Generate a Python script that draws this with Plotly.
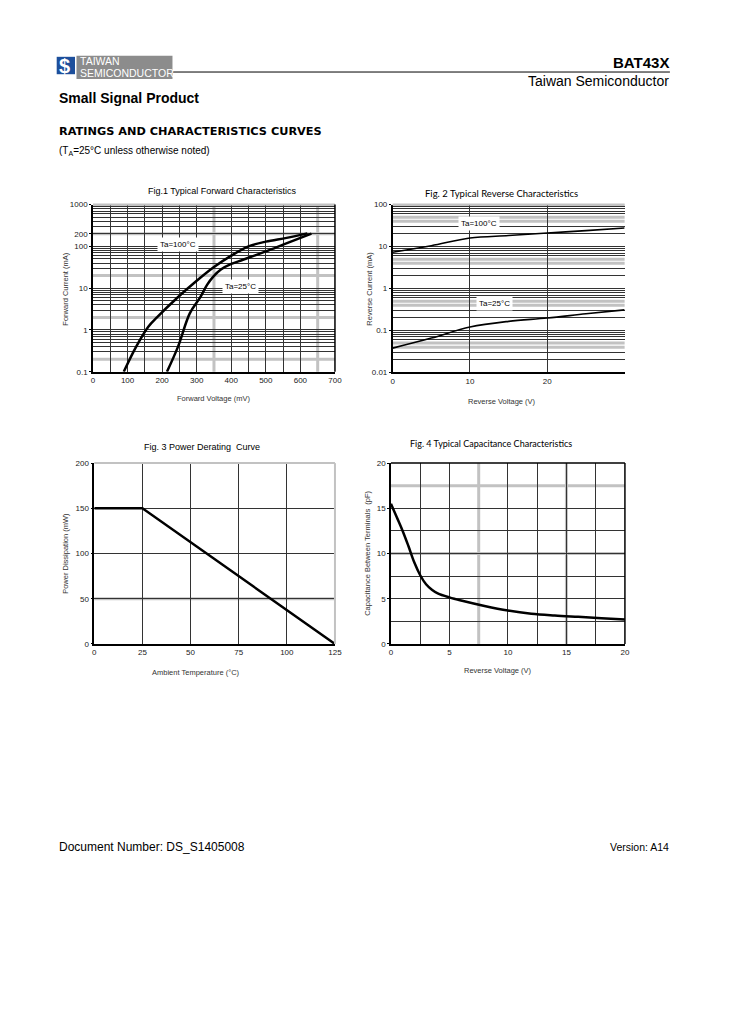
import plotly.graph_objects as go

# Fig.1 forward characteristics (mV, mA)
vf_100 = [89, 125, 160, 185, 240, 300, 350, 400, 450, 500, 560, 620]
if_100 = [0.1, 0.4, 1.2, 2.0, 5.5, 15, 32, 60, 100, 130, 160, 205]
vf_25 = [214, 246, 280, 310, 330, 348, 370, 400, 434, 500, 550, 632]
if_25 = [0.1, 0.4, 2.5, 6, 12, 19, 28, 38, 48, 76, 110, 203]

# Fig.2 reverse characteristics (V, mA)
vr_100 = [0, 5, 10, 15, 20, 25, 30]
ir_100 = [7.3, 10.5, 16, 18.3, 21, 24, 27.7]
vr_25 = [0, 5, 10, 15, 20, 25, 30]
ir_25 = [0.038, 0.066, 0.121, 0.165, 0.198, 0.25, 0.31]

# Fig.3 power derating (degC, mW)
temp = [0, 25, 125]
power = [150, 150, 0]

# Fig.4 capacitance (V, pF)
vr_cap = [0, 0.5, 1.0, 1.5, 2.0, 2.5, 3.0, 3.5, 4.0, 5, 6, 8, 10, 12, 14, 16, 18, 20]
cap = [15.5, 14.0, 12.5, 10.8, 9.0, 7.6, 6.6, 6.0, 5.6, 5.15, 4.8, 4.2, 3.7, 3.35, 3.15, 3.0, 2.85, 2.7]

# tick labels
fig1_xticks = [0, 100, 200, 300, 400, 500, 600, 700]
fig1_yticks = [0.1, 1, 10, 100, 200, 1000]
fig2_xticks = [0, 10, 20]
fig2_yticks = [0.01, 0.1, 1, 10, 100]
fig3_xticks = [0, 25, 50, 75, 100, 125]
fig3_yticks = [0, 50, 100, 150, 200]
fig4_ticks = [0, 5, 10, 15, 20]

# gridlines drawn grey and heavier in the original
fig1_grey_x = [350, 650]
fig1_grey_y = [0.2, 2, 20, 200, 1000]
fig2_grey_y = [0.04, 0.05, 0.4, 0.5, 4, 5, 40, 50, 100]
fig3_grey_y = [50]
fig4_grey_x = [7.5, 15]
fig4_grey_y = [10, 17.5]

# page is drawn inside the 8px body margin of the html page; the capture
# comes out slightly shrunk, so page positions are corrected for that
OFF = 8
W, H = 713, 1016
SX, AX = 0.9875, 2.1
SY, AY = 0.9904, 4.6
FONT = 'Liberation Sans'
GREY = '#c2c2c2'


def px(x):
    return ((x - AX) / SX - OFF) / W


def py(y):
    return 1 - ((y - AY) / SY - OFF) / H


def decades(lo, hi, mult, skip=()):
    vals = [m * 10 ** e for e in range(lo, hi) for m in mult]
    return [v for v in vals if not any(abs(v - s) < 1e-9 * max(s, 1) for s in skip)]


def axes(dom_x, dom_y, xr, yr, xticks, yticks, xminor, yminor, ylog=False):
    tick_font = dict(family=FONT, size=8, color='#222')
    xa = dict(domain=dom_x, range=xr, tickvals=xticks, showgrid=True, gridcolor='#333', gridwidth=1,
              showline=True, linecolor='black', linewidth=1.5, ticks='', zeroline=False,
              tickfont=tick_font, fixedrange=True,
              minor=dict(tickmode='array', tickvals=xminor, showgrid=True, gridcolor='#333',
                         gridwidth=1, ticks=''))
    ya = dict(domain=dom_y, range=yr, tickvals=yticks, ticktext=[f'{v:g}' for v in yticks],
              showgrid=True, gridcolor='#333', gridwidth=1,
              showline=True, linecolor='black', linewidth=1.5, ticks='outside', ticklen=2,
              tickcolor='black', zeroline=False, tickfont=tick_font, fixedrange=True,
              minor=dict(tickmode='array', tickvals=yminor, showgrid=True, gridcolor='#333',
                         gridwidth=1, ticks=''))
    if ylog:
        ya['type'] = 'log'
    return xa, ya


fig = go.Figure()

thick = dict(color='black', width=2.5, shape='spline')
thin = dict(color='black', width=1.6, shape='spline')
fig.add_trace(go.Scatter(x=vf_100, y=if_100, mode='lines', line=thick, xaxis='x', yaxis='y'))
fig.add_trace(go.Scatter(x=vf_25, y=if_25, mode='lines', line=thick, xaxis='x', yaxis='y'))
fig.add_trace(go.Scatter(x=vr_100, y=ir_100, mode='lines', line=thin, xaxis='x2', yaxis='y2'))
fig.add_trace(go.Scatter(x=vr_25, y=ir_25, mode='lines', line=thin, xaxis='x2', yaxis='y2'))
fig.add_trace(go.Scatter(x=temp, y=power, mode='lines', line=dict(color='black', width=2.5),
                         xaxis='x3', yaxis='y3'))
fig.add_trace(go.Scatter(x=vr_cap, y=cap, mode='lines', line=thick, xaxis='x4', yaxis='y4'))

# axis domains from pixel positions on the page; black minor grid skips the grey ones
x1, y1 = axes([px(93), px(335)], [py(372), py(205)], [0, 700], [-1, 3], fig1_xticks, fig1_yticks,
              [v for v in range(50, 700, 100) if v not in fig1_grey_x],
              decades(-1, 3, [2, 3, 4, 5, 6, 7, 8, 9], fig1_grey_y), ylog=True)
x2, y2 = axes([px(392.7), px(624.7)], [py(372.7), py(205)], [0, 30], [-2, 2], fig2_xticks, fig2_yticks,
              [], decades(-2, 2, [2, 3, 4, 5, 6, 7, 8, 9], fig2_grey_y), ylog=True)
x3, y3 = axes([px(94.3), px(335)], [py(644), py(463.3)], [0, 125], [0, 200], fig3_xticks,
              fig3_yticks, [], [])
x4, y4 = axes([px(391), px(625)], [py(644), py(463.3)], [0, 20], [0, 20], fig4_ticks, fig4_ticks,
              [v for v in [2.5, 7.5, 12.5, 17.5] if v not in fig4_grey_x],
              [v for v in [2.5, 7.5, 12.5, 17.5] if v not in fig4_grey_y])

fig.update_layout(
    xaxis=dict(x1, anchor='y'), yaxis=dict(y1, anchor='x'),
    xaxis2=dict(x2, anchor='y2'), yaxis2=dict(y2, anchor='x2'),
    xaxis3=dict(x3, anchor='y3'), yaxis3=dict(y3, anchor='x3'),
    xaxis4=dict(x4, anchor='y4'), yaxis4=dict(y4, anchor='x4'),
)

# heavier grey gridlines, drawn under the traces
for sfx, gx, gy in [('', fig1_grey_x, fig1_grey_y), ('2', [], fig2_grey_y),
                    ('3', [], fig3_grey_y), ('4', fig4_grey_x, fig4_grey_y)]:
    for v in gx:
        fig.add_shape(type='line', xref='x' + sfx, yref=f'y{sfx} domain', x0=v, x1=v, y0=0, y1=1,
                      line=dict(color=GREY, width=3), layer='below')
    for v in gy:
        fig.add_shape(type='line', xref=f'x{sfx} domain', yref='y' + sfx, x0=0, x1=1, y0=v, y1=v,
                      line=dict(color=GREY, width=3), layer='below')

# frame edges on top and right
for sfx, top_col, right_col in [('', GREY, 'black'), ('2', GREY, None),
                                ('3', GREY, GREY), ('4', 'black', 'black')]:
    fig.add_shape(type='line', xref=f'x{sfx} domain', yref=f'y{sfx} domain', x0=0, x1=1, y0=1, y1=1,
                  line=dict(color=top_col, width=2 if top_col == GREY else 1.5))
    if right_col:
        fig.add_shape(type='line', xref=f'x{sfx} domain', yref=f'y{sfx} domain', x0=1, x1=1, y0=0, y1=1,
                      line=dict(color=right_col, width=2 if right_col == GREY else 1.5))

# logo blocks and header rule
fig.add_shape(type='rect', xref='paper', yref='paper', x0=px(56.7), x1=px(75), y0=py(74.7), y1=py(57.3),
              fillcolor='#1d4f9c', line=dict(width=0))
fig.add_shape(type='rect', xref='paper', yref='paper', x0=px(76.5), x1=px(172.5), y0=py(79.5), y1=py(56.3),
              fillcolor='#8c8c8c', line=dict(width=0))
fig.add_shape(type='line', xref='paper', yref='paper', x0=px(172.5), x1=px(670), y0=py(72.5), y1=py(72.5),
              line=dict(color='black', width=1))


def text(x, y, s, size, anchor='left', bold=False, family=FONT, color='black', angle=0):
    fig.add_annotation(x=px(x), y=py(y), xref='paper', yref='paper',
                       text=f'<b>{s}</b>' if bold else s, showarrow=False, xanchor=anchor,
                       yanchor='middle', textangle=angle, borderpad=0,
                       font=dict(family=family, size=size, color=color))


# header
text(670, 63, 'BAT43X', 15, 'right', bold=True)
text(670, 81, 'Taiwan Semiconductor', 14, 'right')
text(58, 98, 'Small Signal Product', 14, bold=True)
text(58, 132, 'RATINGS AND CHARACTERISTICS CURVES', 11.3, bold=True, family='DejaVu Sans')
text(58, 151, '(T<sub>A</sub>=25°C unless otherwise noted)', 10)
text(58, 66, '$', 20, bold=True, color='white')
text(79, 61.5, 'TAIWAN', 10.5, color='white')
text(79, 73, 'SEMICONDUCTOR', 10.5, color='white')

# footer
text(58, 847, 'Document Number: DS_S1405008', 12)
text(670, 847, 'Version: A14', 10.5, 'right')

# figure titles
text(222, 191, 'Fig.1 Typical Forward Characteristics', 9, 'center')
text(502, 194, 'Fig. 2 Typical Reverse Characteristics', 9.5, 'center', family='Lato')
text(202, 447, 'Fig. 3 Power Derating  Curve', 9, 'center')
text(491, 444, 'Fig. 4 Typical Capacitance Characteristics', 9, 'center', family='Lato')

# axis titles
text(214, 399, 'Forward Voltage (mV)', 7.5, 'center', color='#333')
text(66, 289, 'Forward Current (mA)', 7.5, 'center', color='#333', angle=-90)
text(502, 402, 'Reverse Voltage (V)', 7.5, 'center', color='#333')
text(370, 289, 'Reverse Current (mA)', 7.5, 'center', color='#333', angle=-90)
text(196, 673, 'Ambient Temperature (°C)', 7.5, 'center', color='#333')
text(66, 553, 'Power Dissipation (mW)', 7.5, 'center', color='#333', angle=-90)
text(498, 671, 'Reverse Voltage (V)', 7.5, 'center', color='#333')
text(368, 553, 'Capacitance Between Terminals  (pF)', 7.5, 'center', color='#333', angle=-90)

# curve labels (log axes take log10 positions)
label_font = dict(family=FONT, size=8, color='black')
for xr, yr, xv, yv, s in [('x', 'y', 246, 2.04, 'Ta=100°C'), ('x', 'y', 428, 1.036, 'Ta=25°C'),
                          ('x2', 'y2', 11.2, 1.547, 'Ta=100°C'), ('x2', 'y2', 13.2, -0.361, 'Ta=25°C')]:
    fig.add_annotation(x=xv, y=yv, xref=xr, yref=yr, text=s, showarrow=False, bgcolor='white',
                       borderpad=2, font=label_font)

fig.update_layout(
    width=W, height=H, margin=dict(l=0, r=0, t=0, b=0),
    paper_bgcolor='white', plot_bgcolor='white', showlegend=False,
)

fig.write_html('out.html')
